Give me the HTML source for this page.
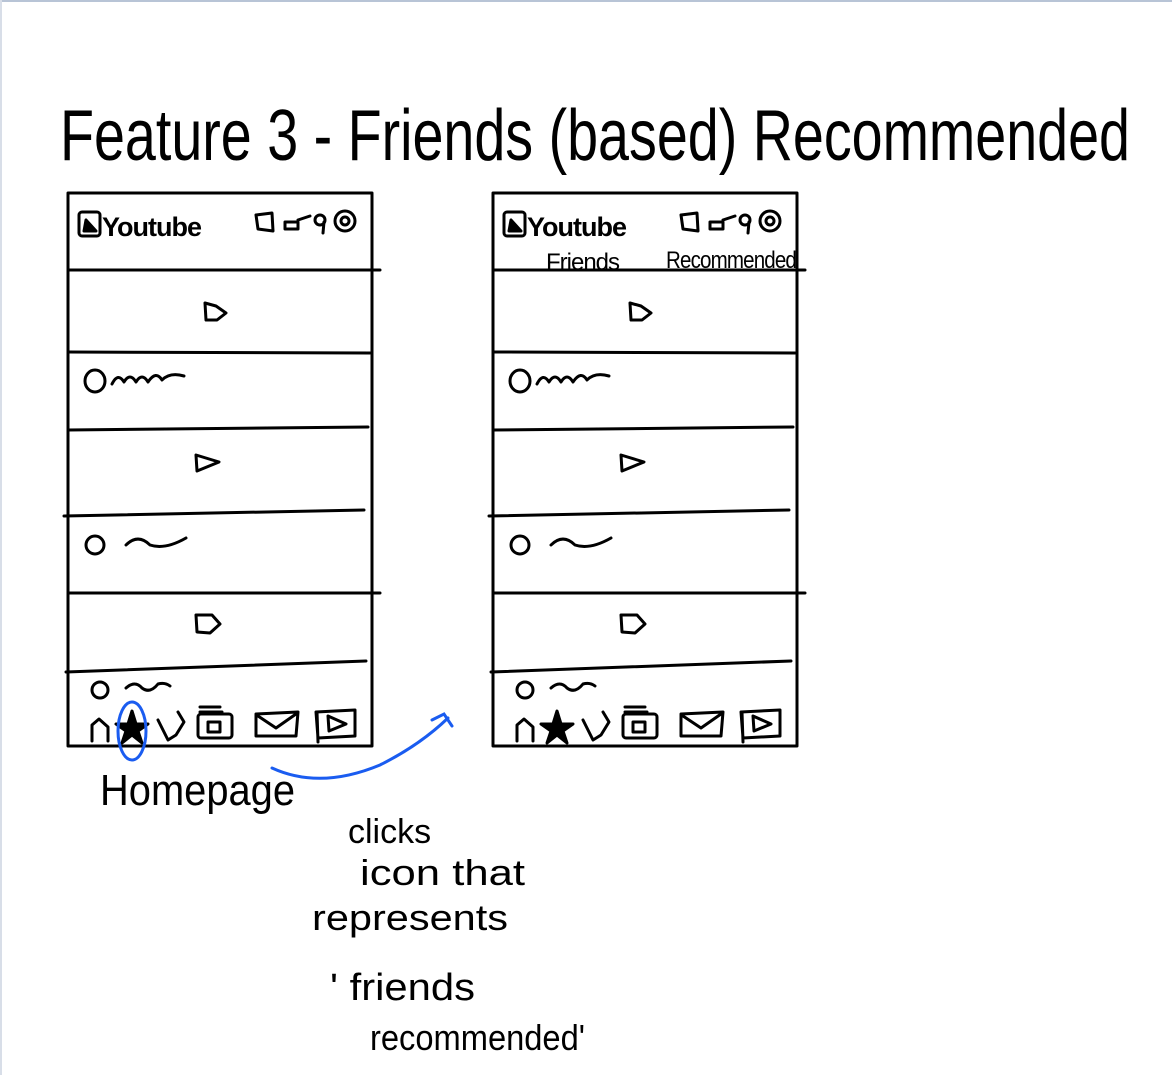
<!DOCTYPE html>
<html><head><meta charset="utf-8"><style>
html,body{margin:0;padding:0;background:#fff;}
svg{display:block;}
text{font-family:"Liberation Sans",sans-serif;fill:#000;}
</style></head><body>
<svg width="1172" height="1075" viewBox="0 0 1172 1075" xmlns="http://www.w3.org/2000/svg">
<rect x="0" y="0" width="1172" height="1075" fill="#fff"/>
<line x1="0" y1="1" x2="1172" y2="1" stroke="#b8c4d6" stroke-width="2"/>
<line x1="1" y1="0" x2="1" y2="1075" stroke="#d8dee8" stroke-width="2"/>
<text x="60" y="160" font-size="72" textLength="1070" lengthAdjust="spacingAndGlyphs">Feature 3 - Friends (based) Recommended</text>

<defs>
<g id="phone" fill="none" stroke="#000" stroke-width="3" stroke-linecap="round" stroke-linejoin="round">
  <rect x="68" y="193" width="304" height="553"/>
  <path d="M68 270 L380 270"/>
  <path d="M68 352 L370 353"/>
  <path d="M68 430 L368 427"/>
  <path d="M64 516 L364 510"/>
  <path d="M68 593 L380 593"/>
  <path d="M66 672 L366 661"/>
  <rect x="79" y="212" width="21" height="24" rx="3"/>
  <path d="M84 231 L96 231 L86 220 Z" fill="#000"/>
  <path d="M256 215 L272 213 L273 231 L258 229 Z"/>
  <path d="M285 222 L298 222 L298 229 L285 229 Z M298 220 L310 216"/>
  <circle cx="320" cy="220" r="5"/><path d="M324 222 L323 233"/>
  <circle cx="345" cy="221" r="10"/><circle cx="345" cy="221" r="4"/>
  <path d="M205 303 L216 306 L226 313 L217 320 L206 320 Z"/>
  <path d="M196 455 L219 462 L197 471 Z"/>
  <path d="M196 615 L212 615 L220 624 L210 633 L197 632 Z"/>
  <ellipse cx="95" cy="381" rx="10" ry="11"/>
  <path d="M112 384 Q118 372 124 382 Q130 372 136 382 Q142 372 148 382 Q156 370 162 380 Q170 372 184 376"/>
  <circle cx="95" cy="545" r="9"/>
  <path d="M126 545 Q138 533 150 545 Q165 550 186 538"/>
  <circle cx="100" cy="690" r="8"/>
  <path d="M126 688 Q135 680 142 688 Q150 694 158 684 Q165 682 170 686"/>
  <path d="M92 741 L92 725 L99 719 L108 727 L108 741"/>
  <path d="M132 711 L136 724 L148 724 L138 731 L142 743 L132 735 L122 743 L126 731 L116 724 L128 724 Z" fill="#000"/>
  <path d="M158 720 L168 740 L176 735 L184 722 L178 712"/>
  <rect x="198" y="714" width="34" height="24" rx="3"/><path d="M200 707 L220 707 M200 712 L222 712"/><rect x="208" y="722" width="12" height="10"/>
  <path d="M256 714 L298 712 L296 736 L256 736 Z M258 716 L276 728 L296 714"/>
  <path d="M316 712 L355 710 L355 736 L318 738 Z M317 712 L318 742"/><path d="M328 716 L346 724 L329 731 Z"/>
</g>
</defs>
<use href="#phone"/>
<use href="#phone" transform="translate(425,0)"/>

<text x="102" y="236" font-size="27" font-weight="bold" letter-spacing="-1">Youtube</text>
<text x="527" y="236" font-size="27" font-weight="bold" letter-spacing="-1">Youtube</text>
<text x="546" y="270" font-size="24" letter-spacing="-1">Friends</text>
<text x="666" y="268" font-size="24" letter-spacing="-1" textLength="130" lengthAdjust="spacingAndGlyphs">Recommended</text>

<ellipse cx="132" cy="731" rx="14" ry="29" fill="none" stroke="#1a5cf0" stroke-width="3"/>
<path d="M272 768 Q320 790 380 765 Q420 745 448 718 M432 720 L444 714 L452 726" fill="none" stroke="#1a5cf0" stroke-width="3" stroke-linecap="round"/>

<text x="100" y="805" font-size="44" textLength="195" lengthAdjust="spacingAndGlyphs">Homepage</text>
<text x="348" y="843" font-size="34">clicks</text>
<text x="360" y="885" font-size="36" textLength="165" lengthAdjust="spacingAndGlyphs">icon that</text>
<text x="312" y="930" font-size="36" textLength="196" lengthAdjust="spacingAndGlyphs">represents</text>
<text x="330" y="1000" font-size="38" textLength="145" lengthAdjust="spacingAndGlyphs">' friends</text>
<text x="370" y="1050" font-size="36" textLength="215" lengthAdjust="spacingAndGlyphs">recommended'</text>
</svg>
</body></html>
